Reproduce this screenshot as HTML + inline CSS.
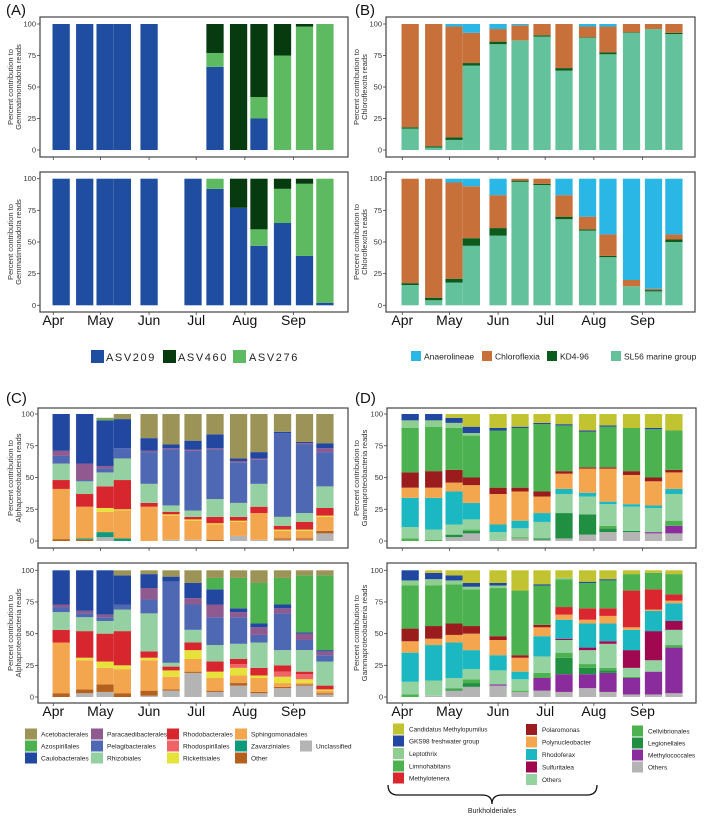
<!DOCTYPE html>
<html><head><meta charset="utf-8"><style>
html,body{margin:0;padding:0;background:#fff;}
svg{display:block;font-family:"Liberation Sans",sans-serif;}
</style></head><body>
<svg id="fig" width="709" height="826" viewBox="0 0 709 826">
<text x="6" y="15" font-size="15" fill="#111">(A)</text>
<text x="355" y="15" font-size="15" fill="#111">(B)</text>
<text x="6" y="403" font-size="15" fill="#111">(C)</text>
<text x="355" y="403" font-size="15" fill="#111">(D)</text>
<g id="charts"></g>
<g id="legends"></g>
</svg>
<script>
// ---- shared data ----
const sampleDays = [5,20,33,44,61,75,89,103,118,131,146,160,173]; // days since Apr 1
const monthNames = ["Apr","May","Jun","Jul","Aug","Sep"];
const monthDays = [0,30,61,91,122,153];
const yTicks = [0,25,50,75,100];

// Panel A
const seriesA = ["ASV209","ASV276","ASV460"];
const colorsA = ["#1f4ea0","#5dba60","#063b10"];
const aTop = [[100,0,0],[100,0,0],[100,0,0],[100,0,0],[100,0,0],null,null,[66,11,23],[0,0,100],[25,17,58],[0,75,25],[0,98,2],[0,100,0]];
const aBot = [[100,0,0],[100,0,0],[100,0,0],[100,0,0],[100,0,0],null,[100,0,0],[92,8,0],[77,0,23],[47,13,40],[65,27,8],[39,57,4],[2,98,0]];

// Panel B
const seriesB = ["SL56 marine group","KD4-96","Chloroflexia","Anaerolineae"];
const colorsB = ["#63c29b","#0c5a1c","#c8703a","#2ab7e6"];
const bTop = [[17,1,82,0],[2,1,97,0],[8,2,88,2],[67,2,24,7],[84,2,10,4],[87,0,12,1],[90,1,9,0],[63,2,35,0],[89,0.5,8.5,2],[76,1.5,20.5,2],[93,0.5,6.5,0],[96,0,4,0],[92,1,7,0]];
const bBot = [[16,1.5,82.5,0],[4,2,94,0],[18,3,76,3],[47,6,41,6],[55,6,26,13],[97.5,1,1.5,0],[95,1,4,0],[68,2,17,13],[59,1,10,30],[38,1,17,44],[15,0,5,80],[11,1,1,87],[50,2,4,44]];

// Panel C
const seriesC = ["Unclassified","Other","Zavarziniales","Sphingomonadales","Rickettsiales","Rhodospirillales","Rhodobacterales","Rhizobiales","Pelagibacterales","Paracaedibacterales","Caulobacterales","Azospirillales","Acetobacterales"];
const colorsC = ["#b4b4b4","#b5611e","#0f9a7c","#f4a64f","#e7e13c","#f06467","#d8262f","#95d0a2","#4f68b3","#8f5a8f","#2247a0","#4cb24f","#9c9456"];
const cTop = [[0,1.5,0,39.5,0,0,7,13,6,4,29,0,0],[0,1,1,25,0,0,10,10,1,13,39,0,0],[3,0,4,16,3,0,17,11,3,2,36,1,1],[0,0,2,22,1,0,23,17,8,0,23,0,4],[0,0,0,27,0,0,3,15,25,1,10,0,19],[1,0,0,19,1,0,2,5,44,1,3,0,24],[1,0,0,15,1,0,2,5,47,1,7,0,21],[0,1,0,12,1,0,5,14,39,1,11,0,16],[4,0,0,11,1,0,3,11,32,1,2,0,35],[1,0,0,21,0,0,5,18,19,1,5,0,30],[1,1,0,6,1,0,3,7,66,0,1,0,14],[1,1,0,6,1,0,6,7,54,1,1,0,22],[6,2,0,11,1,0,6,17,27,3,4,0,23]];
const cBot = [[0,3,0,40,0,0,10,14,4,2,27,0,0],[3,3,0,23,2,0,21,11,3,2,32,0,0],[4,6,0,13,5,0,22,10,3,2,35,0,0],[0,3,0,19,3,0,27,17,4,0,23,0,4],[1,4,0,24,2,0,5,30,11,9,11,0,3],[5,1,0,10,5,0,3,3,64,0,4,0,5],[19,1,0,10,7,0,6,10,20,5,12,0,10],[4,1,0,10,5,0,8,13,22,10,12,9,6],[9,2,0,6,6,3,4,12,21,4,3,24,6],[3,1,0,11,2,0,6,20,6,6,3,32,10],[7,1,0,3,5,4,5,12,29,4,3,21,6],[9,1,0,1,3,4,2,17,8,5,1,45,4],[2,1,0,2,1,0,3,19,5,3,1,59,4]];

// Panel D
const seriesD = ["Others","Methylococcales","Legionellales","Cellvibrionales","Others (Burkholderiales)","Sulfuritalea","Rhodoferax","Polynucleobacter","Polaromonas","Methylotenera","Limnohabitans","Leptothrix","GKS98 freshwater group","Candidatus Methylopumilus"];
const colorsD = ["#b4b4b4","#8a2c9c","#218f42","#4cb24f","#94d29f","#a0084f","#1cb8c1","#f4a64f","#9a1c1c","#d9262f","#4cb24f","#8fce8f","#2247a0","#c2c330"];
const dTop = [[0,0,0,2,9,0,23,8,12,0,35,6,5,0],[0,0,0,1,8,0,25,8,13,0,35,5,5,0],[3,0,2,0,8,0,26,7,10,0,33,4,4,3],[6,0,2,1,8,0,13,14,6,0,33,2,5,10],[1,0,0,0,6,0,6,24,5,0,45,0,2,11],[2,0,0,1,7,0,6,23,3,0,47,0,1,10],[1,0,1,0,13,0,7,13,4,0,53,0,1,7],[2,0,20,0,15,0,4,12,2,0,36,0,1,8],[5,0,16,0,14,0,3,19,1,0,28,0,1,13],[7,0,3,2,17,0,2,26,1,0,32,0,1,9],[7,0,1,0,19,0,2,23,3,0,34,0,0,11],[6,1,0,0,19,0,2,19,3,0,38,0,1,11],[6,6,0,4,21,0,4,13,2,0,31,0,0,13]];
const dBot = [[0,0,0,2,10,0,23,9,10,0,34,4,8,0],[1,0,0,0,12,0,28,5,10,0,32,5,5,2],[5,0,1,1,8,0,28,6,9,0,31,3,4,4],[8,0,3,3,8,0,15,13,6,0,29,2,3,10],[9,1,0,0,11,0,12,12,3,0,38,2,2,10],[4,0,0,1,9,0,6,11,2,0,51,0,0,16],[5,10,0,4,13,0,16,7,2,0,31,0,1,11],[4,14,13,4,10,1,15,4,0,6,22,1,0,6],[7,11,5,3,11,2,19,3,0,9,20,0,1,9],[4,15,2,2,19,2,14,6,0,6,22,0,1,7],[2,13,0,1,7,14,16,2,0,29,13,0,0,3],[2,18,0,0,9,23,16,1,0,16,13,0,0,2],[3,36,0,2,12,7,14,2,0,5,16,0,0,3]];

const NS = "http://www.w3.org/2000/svg";
const charts = document.getElementById('charts');
function mk(tag, attrs, parent){const e=document.createElementNS(NS,tag);for(const k in attrs)e.setAttribute(k,attrs[k]);(parent||charts).appendChild(e);return e;}

const PXDAY = 1.57, BARW = 11;
function drawPanel(p){
  const g = mk('g',{});
  
  
  const xs = d => p.aprX + d*PXDAY;
  const ys = v => p.y0 - v/100*(p.y0-p.y100);
  const fr = mk('rect',{x:p.fl,y:p.ft,width:p.fr-p.fl,height:p.fb-p.ft,fill:'none',stroke:'#444','stroke-width':1.2},g);
  
  
  yTicks.forEach(t=>{
    mk('line',{x1:p.fl-3,x2:p.fl,y1:ys(t),y2:ys(t),stroke:'#444','stroke-width':0.8},g);
    const tx = mk('text',{x:p.fl-4,y:ys(t)+2.5,'font-size':7.5,'text-anchor':'end',fill:'#333'},g);
    tx.textContent = t;
    
    
  });
  const cy=(p.ft+p.fb)/2;
  p.title.forEach((line,i)=>{
    const tx = mk('text',{x:0,y:0,'font-size':7.6,'text-anchor':'middle',fill:'#333',transform:`translate(${p.tx+i*8},${cy}) rotate(-90)`},g);
    tx.textContent=line;
    
    
  });
  monthDays.forEach((d,i)=>{
    mk('line',{x1:xs(d),x2:xs(d),y1:p.fb,y2:p.fb+3,stroke:'#444','stroke-width':0.8},g);
    if(p.months){
      const tx = mk('text',{x:xs(d),y:p.fb+13,'font-size':14,'text-anchor':'middle',fill:'#111'},g);
      tx.textContent=monthNames[i];
      
      
    }
  });
  p.data.forEach((bar,bi)=>{
    if(!bar) return;
    let acc=0;
    const x = xs(sampleDays[bi]) - BARW*PXDAY/2;
    bar.forEach((v,si)=>{
      if(v<=0) return;
      const r = mk('rect',{x:x,y:ys(acc+v),width:BARW*PXDAY,height:ys(acc)-ys(acc+v),fill:p.colors[si]},g);
      
      
      acc+=v;
    });
  });
}
const tA=["Percent contribution to","Gemmatimonadota reads"];
const tB=["Percent contribution to","Chloroflexota reads"];
const tC=["Percent contribution to","Alphaproteobacteria reads"];
const tD=["Percent contribution to","Gammaproteobacteria reads"];
drawPanel({name:'panel-a-top',fl:40,fr:348,ft:17,fb:157,y100:24,y0:150,aprX:53.3,tx:13,title:tA,data:aTop,colors:colorsA,months:false});
drawPanel({name:'panel-a-bottom',fl:40,fr:348,ft:172,fb:312,y100:178.7,y0:305.3,aprX:53.3,tx:13,title:tA,data:aBot,colors:colorsA,months:true});
drawPanel({name:'panel-b-top',fl:386,fr:695,ft:17,fb:157,y100:24,y0:150,aprX:402.3,tx:359,title:tB,data:bTop,colors:colorsB,months:false});
drawPanel({name:'panel-b-bottom',fl:386,fr:695,ft:172,fb:312,y100:178.7,y0:305.3,aprX:402.3,tx:359,title:tB,data:bBot,colors:colorsB,months:true});
drawPanel({name:'panel-c-top',fl:38,fr:348,ft:408,fb:548,y100:414,y0:541,aprX:53.3,tx:13,title:tC,data:cTop,colors:colorsC,months:false});
drawPanel({name:'panel-c-bottom',fl:38,fr:348,ft:563,fb:703,y100:570.3,y0:697,aprX:53.3,tx:13,title:tC,data:cBot,colors:colorsC,months:true});
drawPanel({name:'panel-d-top',fl:387,fr:696,ft:408,fb:548,y100:414,y0:541,aprX:402.3,tx:359,title:tD,data:dTop,colors:colorsD,months:false});
drawPanel({name:'panel-d-bottom',fl:387,fr:696,ft:563,fb:703,y100:570.3,y0:697,aprX:402.3,tx:359,title:tD,data:dBot,colors:colorsD,months:true});

// legends
const lg = document.getElementById('legends');
function entry(label,color,sx,sy,sw,sh,tx,ty,fs,ls){
  const g = mk('g',{},lg);
  
  
  mk('rect',{x:sx,y:sy,width:sw,height:sh,fill:color},g);
  const t = mk('text',{x:tx,y:ty,'font-size':fs,fill:'#222','letter-spacing':ls||0},g);
  t.textContent=label;
}
// A legend
[["ASV209",0,91,106],["ASV460",2,163,178],["ASV276",1,233,249]].forEach(e=>entry(e[0],colorsA[e[1]],e[2],350,13,13,e[3],361,11,1.6));
// B legend
[["Anaerolineae",3,411,424],["Chloroflexia",2,482,495],["KD4-96",1,547,560],["SL56 marine group",0,611,624]].forEach(e=>entry(e[0],colorsB[e[1]],e[2],351,10,10,e[3],359.5,8.5));
// C legend
const legC=[["Acetobacterales",12,25,734],["Azospirillales",11,25,746],["Caulobacterales",10,25,758],
["Paracaedibacterales",9,91,734],["Pelagibacterales",8,91,746],["Rhizobiales",7,91,758],
["Rhodobacterales",6,167,734],["Rhodospirillales",5,167,746],["Rickettsiales",4,167,758],
["Sphingomonadales",3,235,734],["Zavarziniales",2,235,746],["Other",1,235,758],["Unclassified",0,300,746]];
legC.forEach(e=>entry(e[0],colorsC[e[1]],e[2],e[3]-5.5,12,11,e[2]+16,e[3]+2.5,6.6));
// D legend
const legD=[["Candidatus Methylopumilus",13,393,729],["GKS98 freshwater group",12,393,741],["Leptothrix",11,393,753.5],["Limnohabitans",10,393,766],["Methylotenera",9,393,778],
["Polaromonas",8,526,729.5],["Polynucleobacter",7,526,742],["Rhodoferax",6,526,754.5],["Sulfuritalea",5,526,767],["Others",4,526,779.5],
["Cellvibrionales",3,632,731],["Legionellales",2,632,743],["Methylococcales",1,632,755],["Others",0,632,767]];
legD.forEach(e=>entry(e[0],colorsD[e[1]],e[2],e[3]-5.5,11,11,e[2]+16,e[3]+2.5,6.4));
const br = mk('path',{d:'M388,785 Q388,795 398,795 L482,795 Q492,795 492,804 Q492,795 502,795 L587,795 Q597,795 597,785',fill:'none',stroke:'#111','stroke-width':1.3},lg);


const bt = mk('text',{x:492,y:813,'font-size':7,'text-anchor':'middle',fill:'#222'},lg);
bt.textContent='Burkholderiales';


</script>
</body></html>
